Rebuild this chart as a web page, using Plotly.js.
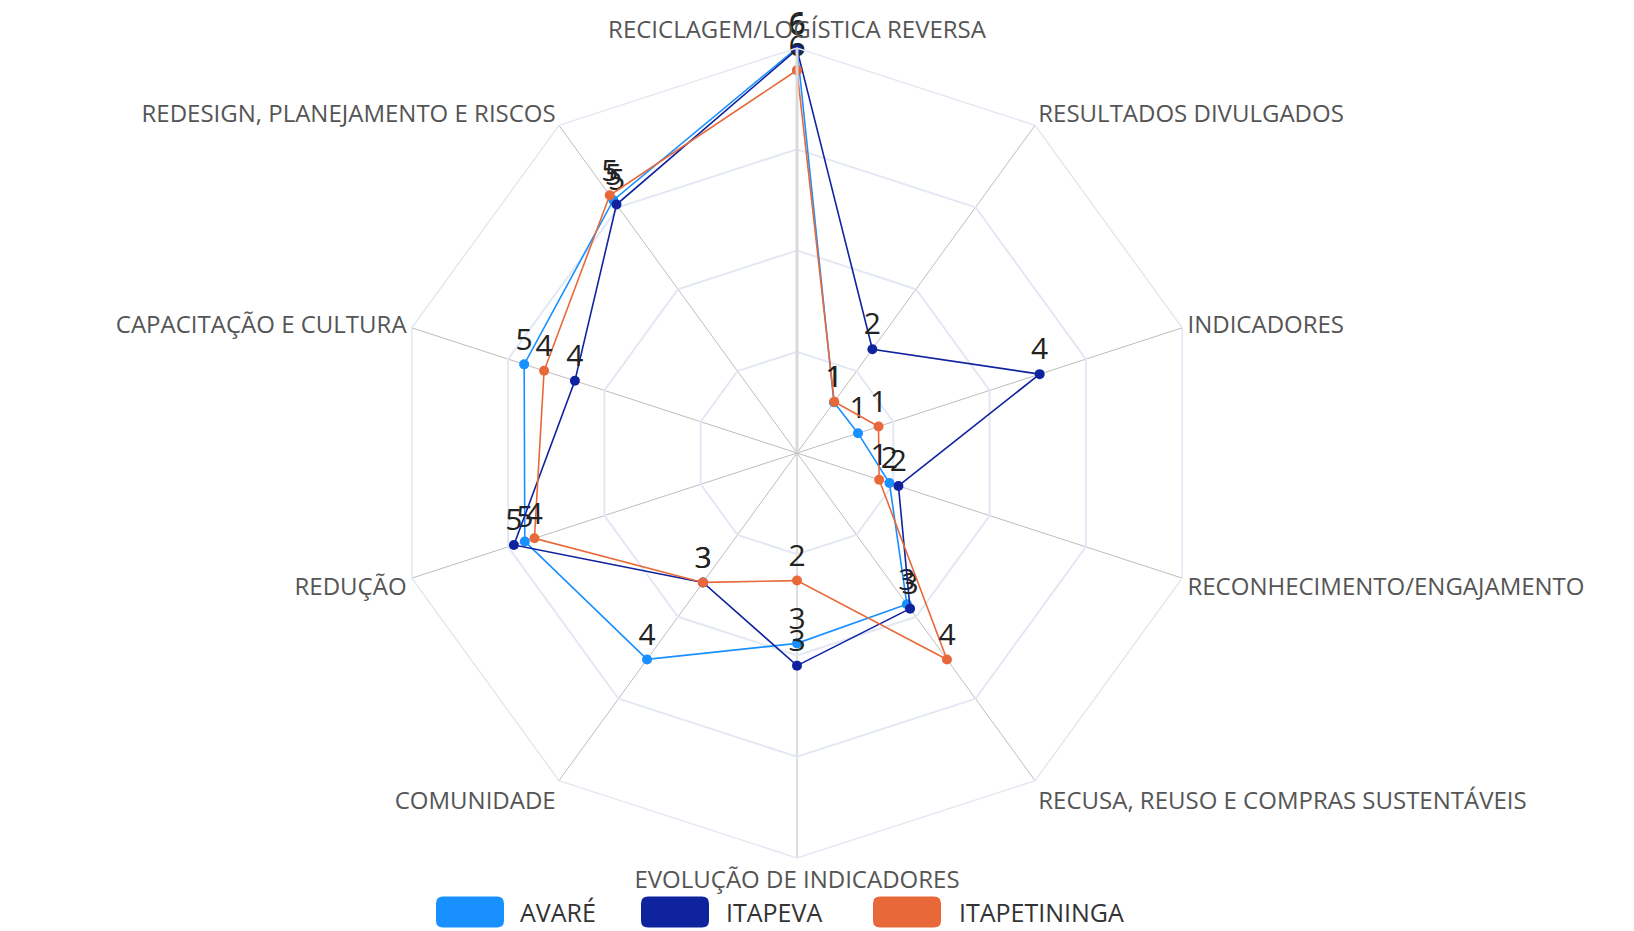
<!DOCTYPE html>
<html>
<head>
<meta charset="utf-8">
<script src="https://cdn.plot.ly/plotly-3.0.1.min.js"></script>
<style>html,body{margin:0;padding:0;background:#fff;}</style>
</head>
<body>
<div id="chart" style="width:1634px;height:931px;"></div>
<script>
// ---- data ----
const categories = [
  'RECICLAGEM/LOGÍSTICA REVERSA',
  'RESULTADOS DIVULGADOS',
  'INDICADORES',
  'RECONHECIMENTO/ENGAJAMENTO',
  'RECUSA, REUSO E COMPRAS SUSTENTÁVEIS',
  'EVOLUÇÃO DE INDICADORES',
  'COMUNIDADE',
  'REDUÇÃO',
  'CAPACITAÇÃO E CULTURA',
  'REDESIGN, PLANEJAMENTO E RISCOS'
];
const seriesNames = ['AVARÉ', 'ITAPEVA', 'ITAPETININGA'];
const avareValues        = [6.00, 0.93, 0.95, 1.44, 2.77, 2.82, 3.78, 4.24, 4.25, 4.63];
const itapevaValues      = [5.98, 1.90, 3.78, 1.58, 2.85, 3.15, 2.37, 4.41, 3.46, 4.55];
const itapetiningaValues = [5.67, 0.94, 1.27, 1.28, 3.78, 1.89, 2.37, 4.09, 3.94, 4.72];
const avareLabels        = ['6', '1', '1', '2', '3', '3', '4', '5', '5', '5'];
const itapevaLabels      = ['6', '2', '4', '2', '3', '3', '3', '5', '4', '5'];
const itapetiningaLabels = ['6', '1', '1', '1', '4', '2', '3', '4', '4', '5'];
const radialMax = 6;
const ringValues = [1.5, 3, 4.5, 6];

// ---- styles ----
const colors = ['#1890ff', '#10239e', '#e8683a'];
const W = 1634, H = 931;
const FONT = 'Open Sans, Noto Sans, sans-serif';

const allValues = [avareValues, itapevaValues, itapetiningaValues];
const allLabels = [avareLabels, itapevaLabels, itapetiningaLabels];

const traces = seriesNames.map((name, i) => ({
  type: 'scatterpolar',
  name: name,
  r: allValues[i].concat([allValues[i][0]]),
  theta: categories.concat([categories[0]]),
  text: allLabels[i].concat(['']),
  mode: 'lines+markers+text',
  textposition: 'top center',
  textfont: {family: FONT, size: 30, color: '#222'},
  line: {color: colors[i], width: 1.6},
  marker: {color: colors[i], size: 10},
  cliponaxis: false,
  showlegend: false,
  hoverinfo: 'name+theta+r'
}));

// polar geometry (pixels)
const cx = 797, cy = 453, R = 405;

// custom legend (rounded swatches + labels)
const legendY = 912;           // centre line of the legend in px
const swW = 68, swH = 31, rad = 7;
const legendItems = [
  {sx: 436, tx: 518},
  {sx: 641, tx: 724},
  {sx: 873, tx: 957}
];
function px(x) { return x / W; }
function py(y) { return (H - y) / H; }
function roundRectPath(x0, y0, w, h, r) {
  const x1 = x0 + w, y1 = y0 + h;
  const P = (x, y) => px(x) + ',' + py(y);
  return 'M' + P(x0 + r, y0) + ' L' + P(x1 - r, y0) + ' Q' + P(x1, y0) + ' ' + P(x1, y0 + r) +
         ' L' + P(x1, y1 - r) + ' Q' + P(x1, y1) + ' ' + P(x1 - r, y1) +
         ' L' + P(x0 + r, y1) + ' Q' + P(x0, y1) + ' ' + P(x0, y1 - r) +
         ' L' + P(x0, y0 + r) + ' Q' + P(x0, y0) + ' ' + P(x0 + r, y0) + ' Z';
}
const shapes = legendItems.map((it, i) => ({
  type: 'path', xref: 'paper', yref: 'paper',
  path: roundRectPath(it.sx, legendY - swH / 2, swW, swH, rad),
  fillcolor: colors[i], line: {width: 0}
}));
const annotations = legendItems.map((it, i) => ({
  xref: 'paper', yref: 'paper', x: px(it.tx), y: py(legendY),
  xanchor: 'left', yanchor: 'middle', showarrow: false,
  text: seriesNames[i], font: {family: FONT, size: 25, color: '#333'}
}));

const layout = {
  width: W, height: H,
  margin: {l: 0, r: 0, t: 0, b: 0},
  paper_bgcolor: '#ffffff',
  showlegend: false,
  polar: {
    domain: {x: [px(cx - R), px(cx + R)], y: [py(cy + R), py(cy - R)]},
    bgcolor: '#ffffff',
    gridshape: 'linear',
    radialaxis: {
      range: [0, radialMax],
      tickvals: ringValues,
      showticklabels: false,
      ticks: '',
      gridcolor: '#e3e8f3',
      gridwidth: 1.5,
      showline: true,
      linecolor: '#d9d9d9',
      linewidth: 3,
      angle: 90
    },
    angularaxis: {
      type: 'category',
      categoryarray: categories,
      rotation: 90,
      direction: 'clockwise',
      showline: true,
      linecolor: '#e3e8f3',
      linewidth: 1.5,
      gridcolor: '#bdbdbd',
      gridwidth: 1,
      ticks: '',
      tickfont: {family: FONT, size: 24, color: '#555'}
    }
  },
  shapes: shapes,
  annotations: annotations
};

Plotly.newPlot('chart', traces, layout, {displayModeBar: false, responsive: false});
</script>
</body>
</html>
